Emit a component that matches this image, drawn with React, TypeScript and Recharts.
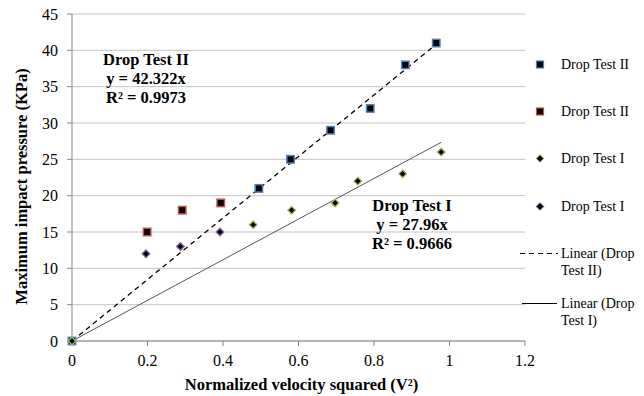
import { CartesianGrid, Label, Scatter, ScatterChart, XAxis, YAxis } from "recharts";

// Drop Test II (blue squares)
const dropTestIIa = [
  { x: 0, y: 0 },
  { x: 0.495, y: 21 },
  { x: 0.579, y: 25 },
  { x: 0.685, y: 29 },
  { x: 0.79, y: 32 },
  { x: 0.883, y: 38 },
  { x: 0.965, y: 41 },
];

// Drop Test II (red squares)
const dropTestIIb = [
  { x: 0.199, y: 15 },
  { x: 0.292, y: 18 },
  { x: 0.394, y: 19 },
];

// Drop Test I (green diamonds)
const dropTestIa = [
  { x: 0, y: 0 },
  { x: 0.48, y: 16 },
  { x: 0.582, y: 18 },
  { x: 0.697, y: 19 },
  { x: 0.757, y: 22 },
  { x: 0.876, y: 23 },
  { x: 0.978, y: 26 },
];

// Drop Test I (purple diamonds)
const dropTestIb = [
  { x: 0.196, y: 12 },
  { x: 0.287, y: 13 },
  { x: 0.392, y: 15 },
];

const slopeII = 42.322;
const slopeI = 27.96;

const xTicks = [0, 0.2, 0.4, 0.6, 0.8, 1, 1.2];
const yTicks = [0, 5, 10, 15, 20, 25, 30, 35, 40, 45];

const maxX = (pts: { x: number }[]) => Math.max(...pts.map((p) => p.x));
const trendII = [0, maxX(dropTestIIa)].map((x) => ({ x, y: slopeII * x }));
const trendI = [0, maxX(dropTestIa)].map((x) => ({ x, y: slopeI * x }));

const FONT = '"Liberation Serif", "Times New Roman", serif';
const AXIS_GRAY = "#868686";

const squareShape = (color: string) => (props: any) => {
  const { cx, cy } = props;
  return (
    <rect
      x={cx - 3.7}
      y={cy - 3.7}
      width={7.4}
      height={7.4}
      fill="#000"
      stroke={color}
      strokeWidth={1.5}
    />
  );
};

const diamondShape = (color: string) => (props: any) => {
  const { cx, cy } = props;
  const r = 3.8;
  return (
    <polygon
      points={`${cx},${cy - r} ${cx + r},${cy} ${cx},${cy + r} ${cx - r},${cy}`}
      fill="#000"
      stroke={color}
      strokeWidth={1.3}
    />
  );
};

const noShape = () => <g />;

const renderYLabel = (props: any) => {
  const { viewBox } = props;
  const cy = viewBox.y + viewBox.height / 2 + 9;
  return (
    <text
      x={21}
      y={cy}
      transform={`rotate(-90, 21, ${cy})`}
      textAnchor="middle"
      dominantBaseline="central"
      fontFamily={FONT}
      fontWeight="bold"
      fontSize={16.5}
      fill="#000"
    >
      Maximum impact pressure (KPa)
    </text>
  );
};

const legendItems = [
  { label: ["Drop Test II"], kind: "square", color: "#4F81BD", top: 55.5 },
  { label: ["Drop Test II"], kind: "square", color: "#C0504D", top: 102.5 },
  { label: ["Drop Test I"], kind: "diamond", color: "#9BBB59", top: 149.5 },
  { label: ["Drop Test I"], kind: "diamond", color: "#8064A2", top: 197.5 },
  { label: ["Linear (Drop", "Test II)"], kind: "dash", color: "#000", top: 244.5 },
  { label: ["Linear (Drop", "Test I)"], kind: "solid", color: "#000", top: 294.5 },
];

const LegendMarker = ({ kind, color }: { kind: string; color: string }) => {
  return (
    <svg width={40} height={17} style={{ display: "block" }}>
      {kind === "square" && (
        <rect x={16.5} y={5} width={7} height={7} fill="#000" stroke={color} strokeWidth={1.2} />
      )}
      {kind === "diamond" && (
        <polygon points="20,4.7 23.8,8.5 20,12.3 16.2,8.5" fill="#000" stroke={color} strokeWidth={1} />
      )}
      {kind === "dash" && (
        <line x1={0} y1={8.5} x2={38} y2={8.5} stroke="#000" strokeWidth={1.2} strokeDasharray="5 4" />
      )}
      {kind === "solid" && (
        <line x1={2} y1={8.5} x2={37} y2={8.5} stroke="#000" strokeWidth={1} />
      )}
    </svg>
  );
};

const annotationStyle = {
  position: "absolute" as const,
  fontFamily: FONT,
  fontWeight: "bold" as const,
  fontSize: 16.5,
  lineHeight: "19px",
  textAlign: "center" as const,
  width: 160,
  color: "#000",
};

export default function App() {
  return (
    <div
      style={{
        position: "absolute",
        left: 0,
        top: 0,
        width: 644,
        height: 396,
        background: "#fff",
        fontFamily: FONT,
      }}
    >
      <ScatterChart
        width={644}
        height={396}
        margin={{ top: 14, right: 119, bottom: 0, left: 0 }}
      >
        <CartesianGrid vertical={false} stroke="#c4c4c4" strokeWidth={1} />
        <XAxis
          type="number"
          dataKey="x"
          domain={[0, 1.2]}
          ticks={xTicks}
          height={55}
          interval={0}
          stroke={AXIS_GRAY}
          tickSize={5}
          tickMargin={9}
          tick={{ fill: "#000", fontSize: 16, fontFamily: FONT }}
          tickFormatter={(v: number) => String(Math.round(v * 10) / 10)}
        >
          <Label
            value="Normalized velocity squared (V²)"
            position="insideBottom"
            offset={6}
            dx={3}
            style={{ fontFamily: FONT, fontWeight: "bold", fontSize: 16.5, fill: "#000" }}
          />
        </XAxis>
        <YAxis
          type="number"
          dataKey="y"
          domain={[0, 45]}
          ticks={yTicks}
          width={72}
          interval={0}
          stroke={AXIS_GRAY}
          tickSize={5}
          tickMargin={9}
          tick={{ fill: "#000", fontSize: 16, fontFamily: FONT }}
        >
          <Label content={renderYLabel} />
        </YAxis>
        <Scatter
          data={trendII}
          line={{ stroke: "#000", strokeWidth: 1.3, strokeDasharray: "5 4" }}
          shape={noShape}
          isAnimationActive={false}
        />
        <Scatter
          data={trendI}
          line={{ stroke: "#555", strokeWidth: 1 }}
          shape={noShape}
          isAnimationActive={false}
        />
        <Scatter data={dropTestIIa} shape={squareShape("#4F81BD")} isAnimationActive={false} />
        <Scatter data={dropTestIIb} shape={squareShape("#C0504D")} isAnimationActive={false} />
        <Scatter data={dropTestIa} shape={diamondShape("#9BBB59")} isAnimationActive={false} />
        <Scatter data={dropTestIb} shape={diamondShape("#8064A2")} isAnimationActive={false} />
      </ScatterChart>

      <div style={{ ...annotationStyle, left: 66, top: 49.5 }}>
        <div>Drop Test II</div>
        <div>y = 42.322x</div>
        <div>R² = 0.9973</div>
      </div>
      <div style={{ ...annotationStyle, left: 332, top: 195.5 }}>
        <div>Drop Test I</div>
        <div>y = 27.96x</div>
        <div>R² = 0.9666</div>
      </div>

      {legendItems.map((item, i) => (
        <div
          key={`legend-${i}`}
          style={{
            position: "absolute",
            left: 520,
            top: item.top,
            display: "flex",
            alignItems: "flex-start",
            fontSize: 14,
            lineHeight: "17px",
            color: "#000",
          }}
        >
          <LegendMarker kind={item.kind} color={item.color} />
          <div style={{ marginLeft: 1 }}>
            {item.label.map((line, j) => (
              <div key={j}>{line}</div>
            ))}
          </div>
        </div>
      ))}
    </div>
  );
}
